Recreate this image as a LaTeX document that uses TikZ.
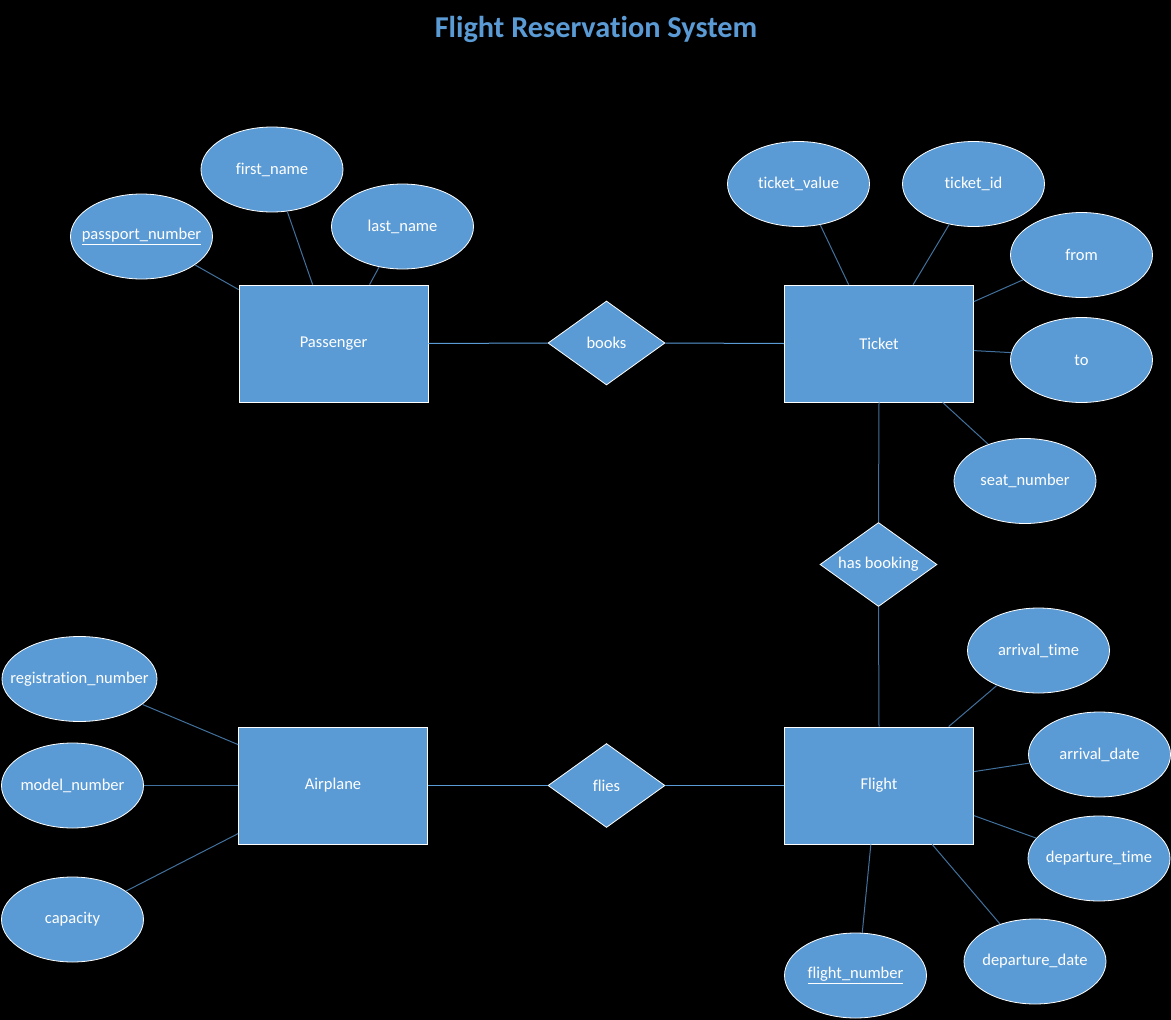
\documentclass[tikz,border=0pt]{standalone}
\usepackage{fontspec}
\setmainfont{Carlito}[Ligatures={NoCommon,NoContextual}]
\usetikzlibrary{shapes.geometric,calc}
\definecolor{boxblue}{HTML}{5B9BD5}
\definecolor{linkblue}{HTML}{41719C}
\tikzset{
  entity/.style={rectangle,draw=white,line width=0.8pt,fill=boxblue,text=white,minimum width=189pt,minimum height=117pt,inner sep=0pt,font=\fontsize{16.5}{18}\selectfont},
  attr/.style={ellipse,draw=white,line width=0.8pt,fill=boxblue,text=white,minimum width=142pt,minimum height=85pt,inner sep=0pt,font=\fontsize{16.5}{18}\selectfont},
  rel/.style={diamond,draw=white,line width=0.8pt,fill=boxblue,text=white,minimum width=117pt,minimum height=84pt,inner sep=0pt,font=\fontsize{16.5}{18}\selectfont},
  link/.style={draw=linkblue,line width=1pt},
  conn/.style={draw=boxblue,line width=1pt}
}
\newcommand{\ul}[1]{\underline{#1}}
\newcommand{\lbl}[1]{\makebox[0pt]{#1}}
\begin{document}
\begin{tikzpicture}[x=1pt,y=-1pt]
\fill[black] (0,0) rectangle (1171,1020);
\useasboundingbox (0,0) rectangle (1171,1020);

\node[text=boxblue,font=\fontsize{30.3}{32}\bfseries\selectfont] (title) at (596,29) {Flight Reservation System};

% entities
\node[entity] (pass) at (333.5,343.5) {Passenger};
\node[entity] (tick) at (879,343.5) {Ticket};
\node[entity] (plane) at (333,785.5) {Airplane};
\node[entity] (fl) at (879,785.5) {Flight};

% relationships
\node[rel] (books) at (606.5,343) {\lbl{books}};
\node[rel] (flies) at (606.5,785.5) {\lbl{flies}};
\node[rel] (hasb) at (878.5,564.5) {\lbl{has booking}};

% attributes
\node[attr] (pn) at (141.5,236.5) {\lbl{\ul{passport\_number}}};
\node[attr] (fn) at (272,169.5) {\lbl{first\_name}};
\node[attr] (ln) at (402.5,226.5) {\lbl{last\_name}};
\node[attr] (tv) at (798.5,184) {\lbl{ticket\_value}};
\node[attr] (tid) at (973.5,184) {\lbl{ticket\_id}};
\node[attr] (from) at (1081.5,255) {\lbl{from}};
\node[attr] (to) at (1081.5,360) {\lbl{to}};
\node[attr] (seat) at (1025,481) {\lbl{seat\_number}};
\node[attr] (at) at (1038.5,650.5) {\lbl{arrival\_time}};
\node[attr] (ad) at (1099.5,754.5) {\lbl{arrival\_date}};
\node[attr] (dt) at (1099,858.5) {\lbl{departure\_time}};
\node[attr] (dd) at (1035,961.5) {\lbl{departure\_date}};
\node[attr] (fnum) at (855.5,975.5) {\lbl{\ul{flight\_number}}};
\node[attr,minimum width=155pt] (reg) at (79.5,679) {\lbl{registration\_number}};
\node[attr] (model) at (72.5,785.5) {\lbl{model\_number}};
\node[attr] (cap) at (72.5,919.5) {\lbl{capacity}};

% relationship connectors
\draw[conn] (pass.east) -- (books.west);
\draw[conn] (books.east) -- (tick.west);
\draw[conn] (plane.east) -- (flies.west);
\draw[conn] (flies.east) -- (fl.west);
\draw[link] (tick.south) -- (hasb.north);
\draw[link] (hasb.south) -- (fl.north);

% attribute connectors
\draw[link] (pn.-28) -- ($(pass.north west)+(0,5)$);
\draw[link] (fn.-70.6) -- ($(pass.north west)!0.39!(pass.north east)$);
\draw[link] (ln.-120.6) -- ($(pass.north west)!0.69!(pass.north east)$);
\draw[link] (tv.-62.3) -- ($(tick.north west)!0.34!(tick.north east)$);
\draw[link] (tid.-121.9) -- ($(tick.north west)!0.68!(tick.north east)$);
\draw[link] (from.203.6) -- ($(tick.north east)+(0,17)$);
\draw[link] (to.174.3) -- ($(tick.north east)+(0,66)$);
\draw[link] (seat.135) -- ($(tick.south west)!0.835!(tick.south east)$);
\draw[link] (at.220.4) -- ($(fl.north west)!0.867!(fl.north east)$);
\draw[link] (ad.187.7) -- ($(fl.north east)+(0,45)$);
\draw[link] (dt.162.7) -- ($(fl.north east)+(0,89)$);
\draw[link] (dd.133) -- ($(fl.south west)!0.78!(fl.south east)$);
\draw[link] (fnum.81.3) -- ($(fl.south west)!0.457!(fl.south east)$);
\draw[link] (reg.-22.3) -- ($(plane.north west)+(0,18)$);
\draw[link] (model.east) -- (plane.west);
\draw[link] (cap.28.4) -- ($(plane.north west)+(0,107)$);
\end{tikzpicture}
\end{document}
